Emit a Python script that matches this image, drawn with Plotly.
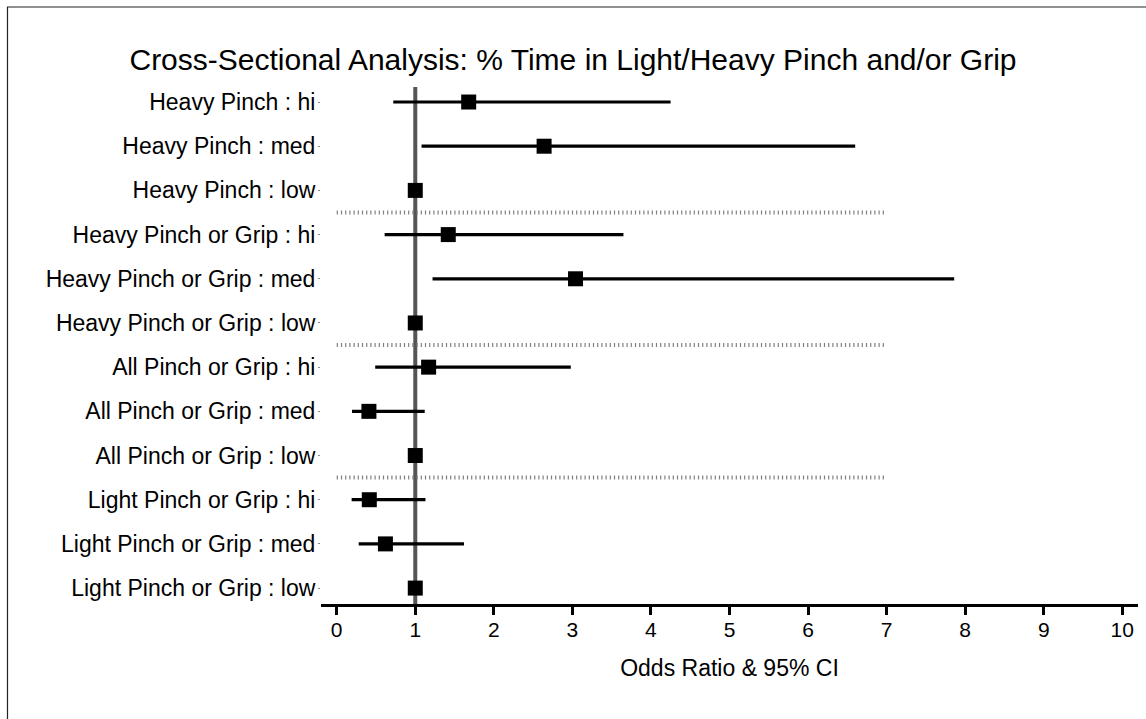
import plotly.graph_objects as go

labels = [
    "Heavy Pinch : hi", "Heavy Pinch : med", "Heavy Pinch : low",
    "Heavy Pinch or Grip : hi", "Heavy Pinch or Grip : med", "Heavy Pinch or Grip : low",
    "All Pinch or Grip : hi", "All Pinch or Grip : med", "All Pinch or Grip : low",
    "Light Pinch or Grip : hi", "Light Pinch or Grip : med", "Light Pinch or Grip : low",
]
odds = [1.68, 2.64, 1.0, 1.42, 3.04, 1.0, 1.17, 0.41, 1.0, 0.415, 0.62, 1.0]
lower = [0.72, 1.08, 1.0, 0.61, 1.22, 1.0, 0.49, 0.195, 1.0, 0.19, 0.28, 1.0]
upper = [4.25, 6.60, 1.0, 3.65, 7.86, 1.0, 2.98, 1.12, 1.0, 1.13, 1.62, 1.0]
separators = [2.5, 5.5, 8.5]
sep_x = [0, 7]
ref_x = 1
x_ticks = list(range(0, 11))

rows = list(range(len(labels)))

W, H = 1146, 719
L, R, T, B = 321, 8, 87, 115
pw, ph = W - L - R, H - T - B

def px_x(p):
    return (p - L) / pw

def px_y(p):
    return (H - B - p) / ph

FONT = "Liberation Sans, Arial, sans-serif"

fig = go.Figure()
fig.add_trace(go.Scatter(
    x=odds, y=rows, mode="markers",
    marker=dict(symbol="square", size=15, color="black", line=dict(width=0)),
    error_x=dict(type="data", symmetric=False,
                 array=[u - o for u, o in zip(upper, odds)],
                 arrayminus=[o - l for o, l in zip(odds, lower)],
                 thickness=3.2, width=0, color="black"),
    showlegend=False, hoverinfo="skip",
))

shapes = []
shapes.append(dict(type="line", xref="x", yref="paper", x0=ref_x, x1=ref_x, y0=0, y1=1,
                   line=dict(color="#555555", width=4), layer="below"))
for s in separators:
    shapes.append(dict(type="line", xref="x", yref="y", x0=sep_x[0], x1=sep_x[1], y0=s, y1=s,
                       line=dict(color="#808080", width=4, dash="1.2px,3px"), layer="below"))
# outer frame
shapes.append(dict(type="rect", xref="paper", yref="paper",
                   x0=px_x(7.5), x1=px_x(W + 5), y0=px_y(7.0), y1=px_y(H + 5),
                   line=dict(color="#222222", width=1.2), fillcolor="rgba(0,0,0,0)"))

fig.update_layout(
    width=W, height=H,
    margin=dict(l=L, r=R, t=T, b=B, pad=0),
    paper_bgcolor="white", plot_bgcolor="white",
    font=dict(family=FONT, color="black"),
    title=dict(text="Cross-Sectional Analysis: % Time in Light/Heavy Pinch and/or Grip",
               x=0.5, xref="container", xanchor="center",
               y=1 - 59 / H, yref="container", yanchor="middle",
               font=dict(size=30, family=FONT, color="black")),
    shapes=shapes,
    xaxis=dict(range=[-0.2, 10.2], tickvals=x_ticks, ticktext=[str(v) for v in x_ticks],
               showgrid=False, zeroline=False, showline=True, linecolor="black", linewidth=3,
               ticks="outside", ticklen=8, tickwidth=3, tickcolor="black",
               ticklabelstandoff=-3,
               tickfont=dict(size=21, family=FONT, color="black"),
               title=dict(text="Odds Ratio & 95% CI", standoff=20,
                          font=dict(size=23, family=FONT, color="black"))),
    yaxis=dict(range=[11.36, -0.34], tickvals=rows, ticktext=labels,
               showgrid=False, zeroline=False, showline=False,
               ticks="outside", ticklen=2, tickwidth=1, tickcolor="#888888",
               ticklabelstandoff=-2,
               tickfont=dict(size=23, family=FONT, color="black")),
)

fig.write_html("out.html")
